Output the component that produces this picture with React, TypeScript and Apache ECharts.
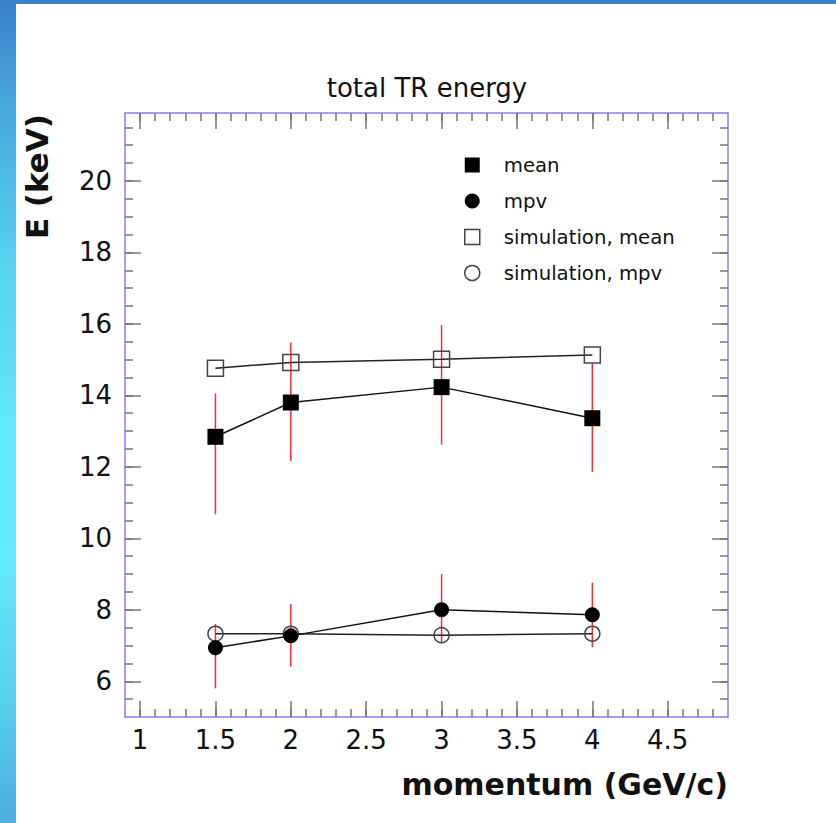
import React, { useEffect, useRef } from 'react';
import * as echarts from 'echarts';

// ---- data ----
const momentum = [1.5, 2, 3, 4];
const meanE = [12.84, 13.8, 14.23, 13.36];
const meanErrLow = [10.67, 12.16, 12.62, 11.86];
const meanErrHigh = [14.05, 15.48, 15.97, 14.88];
const mpvE = [6.94, 7.27, 8.0, 7.86];
const mpvErrLow = [5.8, 6.41, 7.08, 6.95];
const mpvErrHigh = [7.6, 8.16, 9.0, 8.76];
const simMeanE = [14.76, 14.92, 15.01, 15.13];
const simMpvE = [7.33, 7.33, 7.29, 7.33];

const seriesNames = ['mean', 'mpv', 'simulation, mean', 'simulation, mpv'];
const titleText = 'total TR energy';
const xName = 'momentum (GeV/c)';
const yName = 'E (keV)';

const xTickLabels = [1, 1.5, 2, 2.5, 3, 3.5, 4, 4.5];
const yTickLabels = [6, 8, 10, 12, 14, 16, 18, 20];
const xRange = [0.9, 4.9];
const yRange = [5, 21.9];
const xMinorStep = 0.1;
const yMinorStep = 0.5;

function steps(start: number, end: number, step: number): number[] {
  const out: number[] = [];
  const n = Math.round((end - start) / step);
  for (let i = 0; i <= n; i++) out.push(Math.round((start + i * step) * 1000) / 1000);
  return out;
}
const xMinorTicks = steps(xRange[0] + xMinorStep, xRange[1] - xMinorStep, xMinorStep);
const yMinorTicks = steps(yRange[0] + yMinorStep, 21.5, yMinorStep);

const FONT = 'DejaVu Sans';
const FRAME = '#8080ff';
const TICK = '#777777';
const ERR = '#ff2a2a';

function pairs(xs: number[], ys: number[]) {
  return xs.map((x, i) => [x, ys[i]]);
}
function errPairs(xs: number[], lo: number[], hi: number[]) {
  return xs.map((x, i) => [x, lo[i], hi[i]]);
}

function tickAxis(position: string, range: number[], values: number[], len: number, showLine: boolean) {
  return {
    type: 'value',
    position,
    min: range[0],
    max: range[1],
    axisLine: { show: showLine, onZero: false, lineStyle: { color: FRAME, width: 1.5 } },
    axisTick: { show: true, inside: true, length: len, customValues: values, lineStyle: { color: TICK, width: 1.5 } },
    axisLabel: { show: false },
    splitLine: { show: false },
  };
}

export default function App() {
  const ref = useRef<HTMLDivElement>(null);
  useEffect(() => {
    if (!ref.current) return;
    const chart = echarts.init(ref.current, null, { renderer: 'svg' });
    const errRender = (params: any, api: any) => {
      const x = api.value(0);
      const p1 = api.coord([x, api.value(1)]);
      const p2 = api.coord([x, api.value(2)]);
      return {
        type: 'line',
        shape: { x1: p1[0], y1: p1[1], x2: p2[0], y2: p2[1] },
        style: { stroke: ERR, lineWidth: 1.5 },
      };
    };
    chart.setOption({
      animation: false,
      backgroundColor: '#ffffff',
      title: {
        text: titleText,
        left: 427,
        textAlign: 'center',
        top: 75,
        padding: 0,
        textStyle: { fontFamily: FONT, fontSize: 26, fontWeight: 'normal', color: '#111' },
      },
      graphic: [
        { type: 'rect', z: -10, shape: { x: 0, y: 0, width: 836, height: 4 }, style: { fill: '#3a82cc' } },
        {
          type: 'rect',
          z: -10,
          shape: { x: 0, y: 0, width: 16, height: 823 },
          style: {
            fill: new echarts.graphic.LinearGradient(0, 0, 0, 1, [
              { offset: 0, color: '#3a80cc' },
              { offset: 0.12, color: '#45a6dd' },
              { offset: 0.32, color: '#56d2f0' },
              { offset: 0.5, color: '#62e6fc' },
              { offset: 0.68, color: '#64eafe' },
              { offset: 0.85, color: '#58cfef' },
              { offset: 1, color: '#4aaee0' },
            ]),
          },
        },
      ],
      legend: {
        orient: 'vertical',
        left: 464,
        top: 155,
        padding: 0,
        itemGap: 16,
        itemWidth: 15,
        itemHeight: 15,
        selectedMode: false,
        textStyle: { fontFamily: FONT, fontSize: 19.7, color: '#111', lineHeight: 20, padding: [0, 0, 0, 19] },
        data: [
          { name: seriesNames[0], icon: 'rect', itemStyle: { color: '#000', borderWidth: 0 } },
          { name: seriesNames[1], icon: 'circle', itemStyle: { color: '#000', borderWidth: 0 } },
          { name: seriesNames[2], icon: 'rect', itemStyle: { color: 'rgba(0,0,0,0)', borderColor: '#444', borderWidth: 1.5 } },
          { name: seriesNames[3], icon: 'circle', itemStyle: { color: 'rgba(0,0,0,0)', borderColor: '#444', borderWidth: 1.5 } },
        ],
      },
      grid: { left: 125, top: 113, width: 603, height: 604, containLabel: false, outerBoundsMode: 'none' },
      xAxis: [
        {
          type: 'value',
          position: 'bottom',
          min: xRange[0],
          max: xRange[1],
          axisLine: { show: true, onZero: false, lineStyle: { color: FRAME, width: 1.5 } },
          axisTick: { show: true, inside: true, length: 16, customValues: xTickLabels, lineStyle: { color: TICK, width: 1.5 } },
          axisLabel: { show: true, customValues: xTickLabels, margin: 10, fontSize: 26, fontFamily: FONT, color: '#111' },
          splitLine: { show: false },
          name: xName,
          nameLocation: 'end',
          nameGap: 0,
          nameMoveOverlap: false,
          nameTextStyle: {
            fontFamily: FONT, fontSize: 30, fontWeight: 'bold', color: '#111',
            align: 'right', verticalAlign: 'top', padding: [52, 0, 0, 0],
          },
        },
        tickAxis('bottom', xRange, xMinorTicks, 8, false),
        tickAxis('top', xRange, xTickLabels, 16, true),
        tickAxis('top', xRange, xMinorTicks, 8, false),
      ],
      yAxis: [
        {
          type: 'value',
          position: 'left',
          min: yRange[0],
          max: yRange[1],
          axisLine: { show: true, onZero: false, lineStyle: { color: FRAME, width: 1.5 } },
          axisTick: { show: true, inside: true, length: 16, customValues: yTickLabels, lineStyle: { color: TICK, width: 1.5 } },
          axisLabel: { show: true, customValues: yTickLabels, margin: 13, fontSize: 26, fontFamily: FONT, color: '#111' },
          splitLine: { show: false },
          name: yName,
          nameLocation: 'end',
          nameRotate: 90,
          nameGap: -1,
          nameMoveOverlap: false,
          nameTextStyle: {
            fontFamily: FONT, fontSize: 31, fontWeight: 'bold', color: '#111',
            align: 'right', verticalAlign: 'bottom', padding: [0, 0, 73, 0],
          },
        },
        tickAxis('left', yRange, yMinorTicks, 8, false),
        tickAxis('right', yRange, yTickLabels, 16, true),
        tickAxis('right', yRange, yMinorTicks, 8, false),
      ],
      series: [
        {
          type: 'custom',
          silent: true,
          z: 1,
          renderItem: errRender,
          encode: { x: 0, y: [1, 2] },
          data: errPairs(momentum, meanErrLow, meanErrHigh),
        },
        {
          type: 'custom',
          silent: true,
          z: 1,
          renderItem: errRender,
          encode: { x: 0, y: [1, 2] },
          data: errPairs(momentum, mpvErrLow, mpvErrHigh),
        },
        {
          name: seriesNames[2],
          type: 'line',
          silent: true,
          z: 2,
          symbol: 'rect',
          symbolSize: 16,
          data: pairs(momentum, simMeanE),
          itemStyle: { color: 'rgba(0,0,0,0)', borderColor: '#444', borderWidth: 1.5 },
          lineStyle: { color: '#222', width: 1.5 },
          emphasis: { disabled: true },
        },
        {
          name: seriesNames[3],
          type: 'line',
          silent: true,
          z: 2,
          symbol: 'circle',
          symbolSize: 15,
          data: pairs(momentum, simMpvE),
          itemStyle: { color: 'rgba(0,0,0,0)', borderColor: '#444', borderWidth: 1.5 },
          lineStyle: { color: '#222', width: 1.5 },
          emphasis: { disabled: true },
        },
        {
          name: seriesNames[0],
          type: 'line',
          silent: true,
          z: 3,
          symbol: 'rect',
          symbolSize: 16,
          data: pairs(momentum, meanE),
          itemStyle: { color: '#000' },
          lineStyle: { color: '#111', width: 1.5 },
          emphasis: { disabled: true },
        },
        {
          name: seriesNames[1],
          type: 'line',
          silent: true,
          z: 3,
          symbol: 'circle',
          symbolSize: 15,
          data: pairs(momentum, mpvE),
          itemStyle: { color: '#000' },
          lineStyle: { color: '#111', width: 1.5 },
          emphasis: { disabled: true },
        },
      ],
    });
    return () => chart.dispose();
  }, []);
  return (
    <div
      ref={ref}
      style={{ position: 'fixed', left: 0, top: 0, width: 836, height: 823, background: '#fff' }}
    />
  );
}
